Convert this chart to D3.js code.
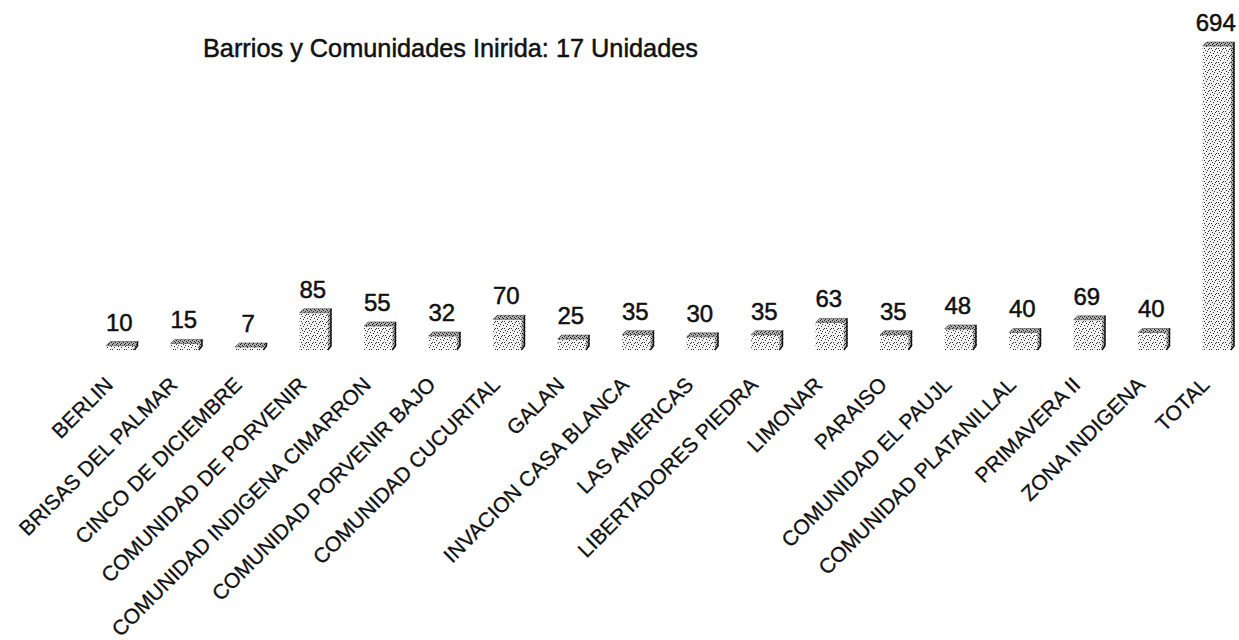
<!DOCTYPE html>
<html><head><meta charset="utf-8">
<script src="https://cdn.jsdelivr.net/npm/d3@7/dist/d3.min.js"></script>
<style>
html,body{margin:0;padding:0;background:#fff;}
svg{display:block;}
text{font-family:"Liberation Sans",Arial,sans-serif;fill:#111;}
</style></head>
<body>
<svg id="chart" width="1239" height="640"></svg>
<script>
const title = "Barrios y Comunidades Inirida: 17 Unidades";
const categories = ["BERLIN","BRISAS DEL PALMAR","CINCO DE DICIEMBRE","COMUNIDAD DE PORVENIR",
  "COMUNIDAD INDIGENA CIMARRON","COMUNIDAD PORVENIR BAJO","COMUNIDAD  CUCURITAL","GALAN",
  "INVACION CASA BLANCA","LAS AMERICAS","LIBERTADORES PIEDRA","LIMONAR","PARAISO",
  "COMUNIDAD EL PAUJL","COMUNIDAD PLATANILLAL","PRIMAVERA II","ZONA INDIGENA","TOTAL"];
const values = [10,15,7,85,55,32,70,25,35,30,35,63,35,48,40,69,40,694];

const svg = d3.select("#chart");
const baseline = 350, depth = 4;

// stipple textures
const defs = svg.append("defs");
const dotsFront = [[1,1],[4,0],[6,3],[2,4],[5,6],[0,6],[3,2]];
const pf = defs.append("pattern").attr("id","stip").attr("width",7).attr("height",7)
  .attr("patternUnits","userSpaceOnUse");
pf.append("rect").attr("width",7).attr("height",7).attr("fill","#f2f2f2");
pf.selectAll("rect.d").data(dotsFront).join("rect").attr("class","d")
  .attr("x",d=>d[0]).attr("y",d=>d[1]).attr("width",1).attr("height",1).attr("fill","#333");
const ps = defs.append("pattern").attr("id","stipDark").attr("width",4).attr("height",4)
  .attr("patternUnits","userSpaceOnUse");
ps.append("rect").attr("width",4).attr("height",4).attr("fill","#b0b0b0");
ps.selectAll("rect.d").data([[0,0],[2,1],[1,3],[3,2]]).join("rect").attr("class","d")
  .attr("x",d=>d[0]).attr("y",d=>d[1]).attr("width",1).attr("height",1).attr("fill","#222");

const x = d3.scaleBand().domain(categories).range([90,1251]).paddingInner(0.5).paddingOuter(0.25);
const y = d3.scaleLinear().domain([0,694]).range([baseline,46]);
const w = x.bandwidth();

const bars = svg.append("g").selectAll("g").data(values).join("g");
// front face
bars.append("rect")
  .attr("x",(d,i)=>x(categories[i]))
  .attr("y",d=>y(d))
  .attr("width",w-depth)
  .attr("height",d=>baseline-y(d))
  .attr("fill","url(#stip)");
// top face
bars.append("path")
  .attr("d",(d,i)=>{const x0=x(categories[i]), yy=y(d);
    return `M${x0},${yy}L${x0+depth},${yy-depth}L${x0+w},${yy-depth}L${x0+w-depth},${yy}Z`;})
  .attr("fill","url(#stipDark)").attr("stroke","#333").attr("stroke-width",0.5);
// side face
bars.append("path")
  .attr("d",(d,i)=>{const x0=x(categories[i]), yy=y(d);
    return `M${x0+w-depth},${yy}L${x0+w},${yy-depth}L${x0+w},${baseline-depth}L${x0+w-depth},${baseline}Z`;})
  .attr("fill","url(#stipDark)");
bars.append("path")
  .attr("d",(d,i)=>{const x0=x(categories[i]), yy=y(d);
    return `M${x0+w-1},${yy-depth}L${x0+w-1},${baseline-depth}L${x0+w-depth},${baseline}`;})
  .attr("fill","none").attr("stroke","#111").attr("stroke-width",1.4);

// value labels
svg.append("g").selectAll("text").data(values).join("text")
  .attr("x",(d,i)=>x(categories[i])+w/2-3)
  .attr("y",d=>y(d)-depth-11)
  .attr("text-anchor","middle")
  .attr("font-size",24)
  .attr("stroke","#111").attr("stroke-width",0.5)
  .text(d=>d);

// category axis
const axis = d3.axisBottom(x).tickSize(0).tickPadding(0);
const ag = svg.append("g").attr("transform",`translate(0,${baseline})`).call(axis);
ag.select(".domain").remove();
ag.selectAll(".tick text")
  .attr("x",0).attr("y",0).attr("dy",0)
  .attr("text-anchor","end")
  .attr("transform","translate(-8,36) rotate(-45)")
  .attr("font-size",21)
  .attr("font-family","'Liberation Sans',Arial,sans-serif")
  .attr("stroke","#111").attr("stroke-width",0.3)
  .attr("fill","#111");

// title
svg.append("text").attr("x",203).attr("y",57).attr("font-size",25.3)
  .attr("stroke","#111").attr("stroke-width",0.5).text(title);
</script>
</body></html>
